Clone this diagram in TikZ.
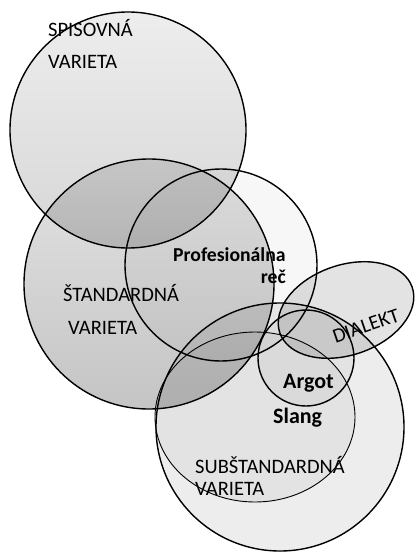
\documentclass[tikz,border=0pt]{standalone}
\usepackage{fontspec}
\setmainfont{Carlito}
\usetikzlibrary{shapes.geometric}

\begin{document}
\begin{tikzpicture}[
    x=1pt, y=-1pt,
    venn/.style={draw, circle, line width=1.4pt, inner sep=0pt},
    oval/.style={draw, ellipse, line width=1.4pt, inner sep=0pt},
    lbl/.style={font=\fontsize{20.5}{22}\selectfont, align=left, inner sep=0pt, anchor=base west},
    blbl/.style={font=\fontsize{19.7}{22}\selectfont\bfseries, inner sep=0pt, anchor=base west}
]
    \useasboundingbox[fill=white] (0,0) rectangle (416,552);

    % sets
    \begin{scope}[blend mode=multiply]
        \node[venn, minimum size=236pt, top color=black!7, bottom color=black!16] (spis) at (128,130) {};
        \node[venn, minimum size=250pt, top color=black!11, bottom color=black!23] (stand) at (149,284) {};
        \node[venn, minimum size=192pt, fill=black!3] (prof) at (221,265) {};
        \node[oval, minimum width=140pt, minimum height=90pt, rotate=19, fill=black!11] (dial) at (346,310) {};
        \node[venn, minimum size=248pt, fill=black!7] (subst) at (280,427) {};
        \node[oval, line width=0.9pt, minimum width=200pt, minimum height=170pt, fill=black!4] (slang) at (255,417) {};
        \node[venn, minimum size=96pt, fill=black!4] (argot) at (306,358) {};
    \end{scope}

    % labels
    \node[lbl] (spislbl) at (48,68) {SPISOVNÁ\\[10pt]VARIETA};
    \node[lbl] (standlbl) at (63,334) {ŠTANDARDNÁ\\[11pt]\hspace*{5pt}VARIETA};
    \node[blbl] (proflbl) at (173,261) {Profesionálna};
    \node[blbl, anchor=base east] (reclbl) at (286,283) {reč};
    \node[lbl, anchor=center, rotate=19] (diallbl) at (366,326) {DIALEKT};
    \node[blbl, font=\fontsize{22}{24}\selectfont\bfseries] (argotlbl) at (283,388) {Argot};
    \node[blbl, font=\fontsize{22}{24}\selectfont\bfseries] (slanglbl) at (273,423) {Slang};
    \node[lbl] (substlbl) at (195,495) {SUBŠTANDARDNÁ\\VARIETA};
\end{tikzpicture}
\end{document}
